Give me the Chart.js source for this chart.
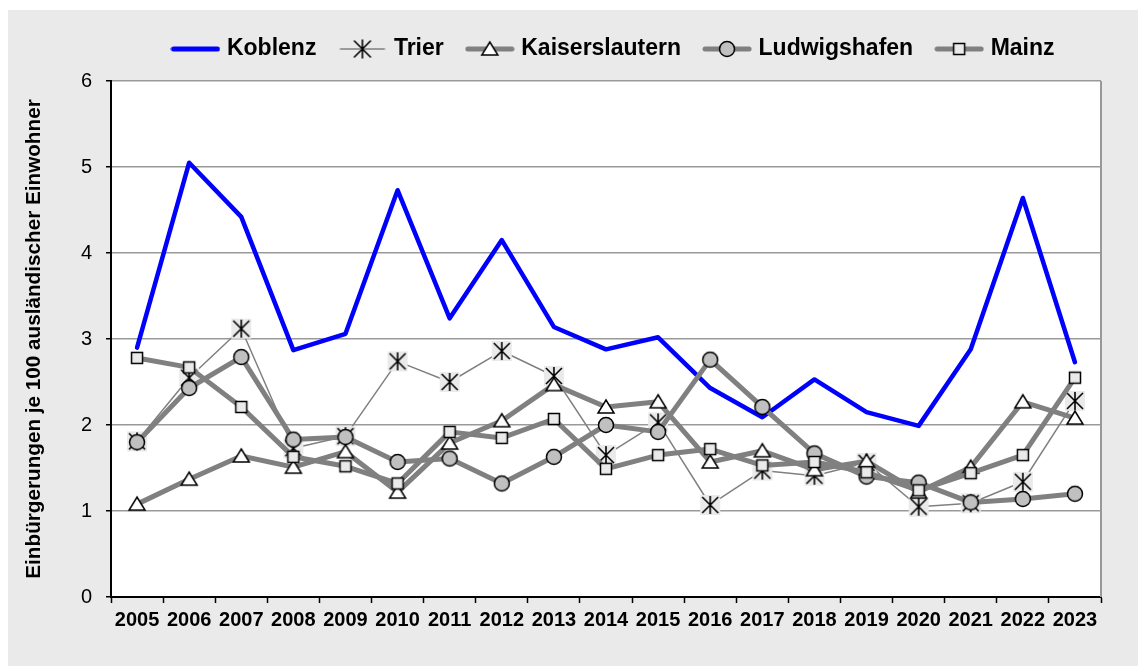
<!DOCTYPE html>
<html>
<head>
<meta charset="utf-8">
<script src="https://cdn.jsdelivr.net/npm/chart.js@4/dist/chart.umd.min.js"></script>
<style>
  html, body { margin: 0; padding: 0; background: #fff; }
</style>
</head>
<body>
<canvas id="chart" width="1138" height="666"></canvas>
<script>
// Jahre und Werte (Einbürgerungen je 100 ausländischer Einwohner)
const years = ['2005', '2006', '2007', '2008', '2009', '2010', '2011', '2012', '2013', '2014',
               '2015', '2016', '2017', '2018', '2019', '2020', '2021', '2022', '2023'];
const koblenz        = [2.90, 5.05, 4.42, 2.87, 3.06, 4.73, 3.24, 4.15, 3.14, 2.88, 3.02, 2.43, 2.09, 2.53, 2.15, 1.99, 2.88, 4.64, 2.73];
const trier          = [1.81, 2.55, 3.12, 1.73, 1.87, 2.74, 2.50, 2.86, 2.57, 1.65, 2.03, 1.07, 1.47, 1.41, 1.56, 1.05, 1.09, 1.34, 2.28];
const kaiserslautern = [1.08, 1.37, 1.64, 1.51, 1.69, 1.22, 1.79, 2.05, 2.47, 2.21, 2.27, 1.57, 1.70, 1.48, 1.58, 1.22, 1.51, 2.27, 2.08];
const ludwigshafen   = [1.80, 2.43, 2.79, 1.83, 1.86, 1.57, 1.61, 1.32, 1.63, 2.00, 1.92, 2.76, 2.21, 1.67, 1.40, 1.33, 1.10, 1.14, 1.20];
const mainz          = [2.78, 2.67, 2.21, 1.63, 1.52, 1.32, 1.92, 1.85, 2.07, 1.49, 1.65, 1.72, 1.53, 1.57, 1.45, 1.24, 1.44, 1.65, 2.55];
const yTitle = 'Einbürgerungen je 100 ausländischer Einwohner';

const FONT = 'Liberation Sans, Arial, sans-serif';
const GRAY = '#808080';
const BG = '#eaeaea';

/* Marker zeichnen (Stern, Dreieck, Kreis, Quadrat) */
function drawMarker(g, kind, x, y, withBox) {
    g.strokeStyle = '#000';
    g.lineWidth = 1.5;
    if (kind === 'asterisk') {
        if (withBox) {
            g.fillStyle = BG;
            g.fillRect(x - 10, y - 10, 20, 20);
        }
        g.lineWidth = 1.6;
        g.beginPath();
        g.moveTo(x, y - 9); g.lineTo(x, y + 9);
        g.moveTo(x - 8, y - 8); g.lineTo(x + 8, y + 8);
        g.moveTo(x + 8, y - 8); g.lineTo(x - 8, y + 8);
        g.stroke();
    } else if (kind === 'triangle') {
        g.fillStyle = '#fff';
        g.beginPath();
        g.moveTo(x, y - 7);
        g.lineTo(x + 8, y + 6);
        g.lineTo(x - 8, y + 6);
        g.closePath();
        g.fill(); g.stroke();
    } else if (kind === 'circle') {
        g.fillStyle = '#c0c0c0';
        g.beginPath();
        g.arc(x, y, 7.5, 0, Math.PI * 2);
        g.fill(); g.stroke();
    } else if (kind === 'square') {
        g.fillStyle = BG;
        g.fillRect(x - 5.5, y - 5.5, 11, 11);
        g.strokeRect(x - 5.5, y - 5.5, 11, 11);
    }
}

function markerImage(kind) {
    const c = document.createElement('canvas');
    c.width = 22; c.height = 22;
    drawMarker(c.getContext('2d'), kind, 11, 11, true);
    return c;
}

/* Legendensymbol: Linie mit Marker in der Mitte */
function legendImage(kind, color, width) {
    const c = document.createElement('canvas');
    c.width = 50; c.height = 22;
    const g = c.getContext('2d');
    g.strokeStyle = color;
    g.lineWidth = width;
    g.lineCap = 'round';
    g.beginPath();
    g.moveTo(3, 11); g.lineTo(47, 11);
    g.stroke();
    if (kind) drawMarker(g, kind, 25, 11, false);
    return c;
}

const legendIcons = [
    legendImage(null, '#0000ff', 5),
    legendImage('asterisk', GRAY, 1.5),
    legendImage('triangle', GRAY, 5),
    legendImage('circle', GRAY, 5),
    legendImage('square', GRAY, 5)
];

/* Hintergrund, weisse Zeichenfläche, rechter Rahmen */
const framePlugin = {
    id: 'frame',
    afterLayout(chart) {
        const lg = chart.legend;
        lg.top -= 10.5; lg.bottom -= 10.5;
        lg.left += 9; lg.right += 9;
    },
    beforeDraw(chart) {
        const {ctx, width, height, chartArea: a} = chart;
        ctx.save();
        ctx.fillStyle = '#fff';
        ctx.fillRect(0, 0, width, height);
        ctx.fillStyle = BG;
        ctx.fillRect(8, 10, width - 8, height - 10);
        ctx.fillStyle = '#fff';
        ctx.fillRect(a.left, a.top, a.right - a.left, a.bottom - a.top);
        ctx.restore();
    },
    beforeDatasetsDraw(chart) {
        const {ctx, chartArea: a} = chart;
        ctx.save();
        ctx.strokeStyle = '#999';
        ctx.lineWidth = 2;
        ctx.beginPath();
        ctx.moveTo(a.right, a.top);
        ctx.lineTo(a.right, a.bottom);
        ctx.stroke();
        ctx.restore();
    }
};

const grayLine = {
    borderColor: GRAY,
    borderWidth: 5,
    borderJoinStyle: 'round',
    borderCapStyle: 'round',
    tension: 0,
    fill: false
};

const chart = new Chart(document.getElementById('chart'), {
    type: 'line',
    plugins: [framePlugin],
    data: {
        labels: years,
        datasets: [
            {
                label: 'Koblenz', data: koblenz, order: 5,
                borderColor: '#0000ff', borderWidth: 4.5,
                borderJoinStyle: 'round', borderCapStyle: 'round',
                pointRadius: 0, pointHoverRadius: 0, fill: false
            },
            Object.assign({}, grayLine, {
                label: 'Trier', data: trier, order: 4, borderWidth: 1.5,
                pointStyle: markerImage('asterisk')
            }),
            Object.assign({}, grayLine, {
                label: 'Kaiserslautern', data: kaiserslautern, order: 3,
                pointStyle: markerImage('triangle')
            }),
            Object.assign({}, grayLine, {
                label: 'Ludwigshafen', data: ludwigshafen, order: 2,
                pointStyle: markerImage('circle')
            }),
            Object.assign({}, grayLine, {
                label: 'Mainz', data: mainz, order: 1,
                pointStyle: markerImage('square')
            })
        ]
    },
    options: {
        responsive: false,
        animation: false,
        devicePixelRatio: 1,
        events: [],
        layout: { padding: { left: 0, right: 37, top: 22, bottom: 0 } },
        plugins: {
            tooltip: { enabled: false },
            legend: {
                position: 'top',
                fullSize: false,
                labels: {
                    usePointStyle: true,
                    pointStyleWidth: 40,
                    padding: 26,
                    color: '#000',
                    font: { family: FONT, size: 23, weight: 'bold' },
                    sort: (a, b) => a.datasetIndex - b.datasetIndex,
                    generateLabels(chart) {
                        const items = Chart.defaults.plugins.legend.labels.generateLabels(chart);
                        items.forEach(it => { it.pointStyle = legendIcons[it.datasetIndex]; });
                        return items;
                    }
                }
            }
        },
        scales: {
            x: {
                type: 'category',
                offset: true,
                grid: {
                    offset: true,
                    drawOnChartArea: false,
                    tickLength: 6,
                    tickColor: '#000',
                    tickWidth: 1.5
                },
                border: { color: '#000', width: 2 },
                ticks: {
                    color: '#000',
                    font: { family: FONT, size: 20, weight: 'bold' },
                    padding: 5,
                    maxRotation: 0,
                    autoSkip: false
                },
                afterFit(scale) { scale.height = 69; }
            },
            y: {
                min: 0,
                max: 6,
                grid: {
                    color: '#999',
                    lineWidth: 1.5,
                    tickColor: '#000',
                    tickLength: 5,
                    tickWidth: 1.5
                },
                border: { color: '#000', width: 2 },
                ticks: {
                    stepSize: 1,
                    color: '#000',
                    font: { family: FONT, size: 20 },
                    padding: 14
                },
                title: {
                    display: true,
                    text: yTitle,
                    color: '#000',
                    font: { family: FONT, size: 20.7, weight: 'bold' },
                    padding: { top: 22, bottom: 0 }
                },
                afterFit(scale) { scale.width = 111; }
            }
        }
    }
});
</script>
</body>
</html>
